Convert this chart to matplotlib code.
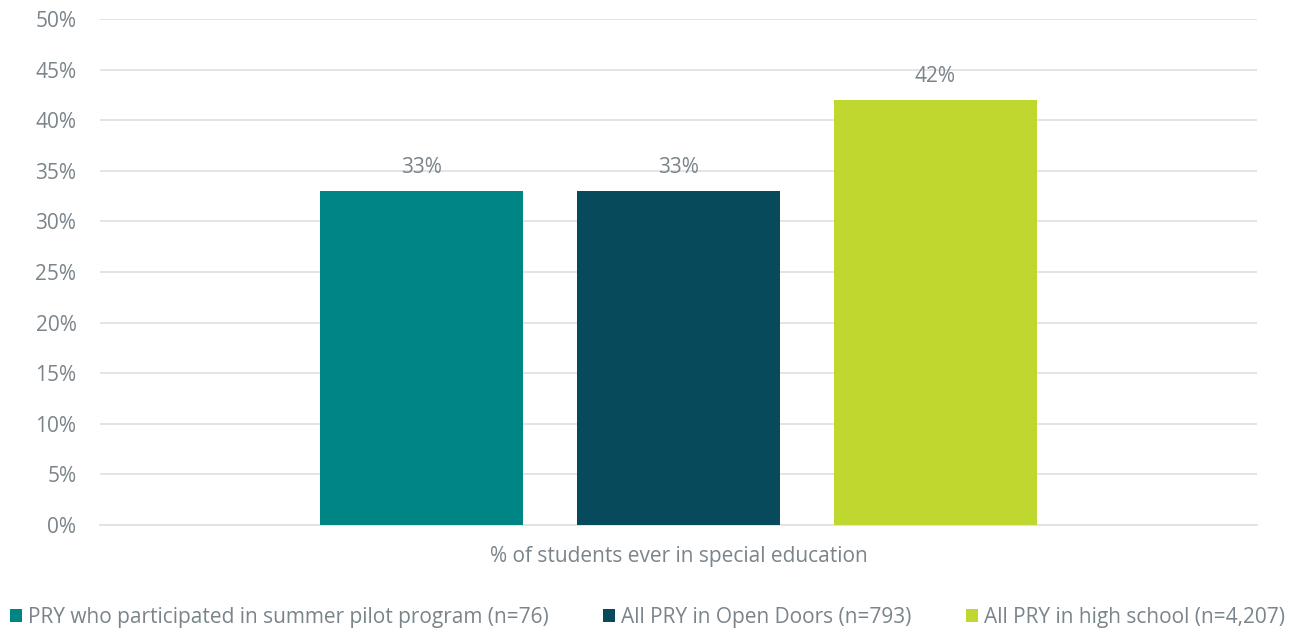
import matplotlib
matplotlib.use("Agg")
import matplotlib.pyplot as plt
from matplotlib.patches import Patch
from matplotlib.ticker import MultipleLocator, FuncFormatter

# Data
category = "% of students ever in special education"
groups = [
    "PRY who participated in summer pilot program (n=76)",
    "All PRY in Open Doors (n=793)",
    "All PRY in high school (n=4,207)",
]
values = [33, 33, 42]
colors = ["#008585", "#064A5C", "#C0D72F"]

TEXT = "#7A848B"
GRID = "#E2E2E2"
FS = 15

plt.rcParams["font.family"] = ["Open Sans", "DejaVu Sans"]

fig = plt.figure(figsize=(13.05, 6.33), dpi=100)
W, H = 1305, 633
ax = fig.add_axes([100 / W, (H - 525) / H, (1257 - 100) / W, (525 - 19) / H])

positions = [-1, 0, 1]
bars = ax.bar(positions, values, width=0.79, color=colors, zorder=3)
for b, v in zip(bars, values):
    ax.annotate(f"{v}%", (b.get_x() + b.get_width() / 2, v), xytext=(0, 9.5),
                textcoords="offset points", ha="center", va="bottom",
                fontsize=FS, color=TEXT)

ax.set_xlim(-2.251, 2.251)
ax.set_ylim(0, 50)
ax.yaxis.set_major_locator(MultipleLocator(5))
ax.yaxis.set_major_formatter(FuncFormatter(lambda y, _: f"{y:.0f}%"))
ax.grid(axis="y", color=GRID, linewidth=1.3, zorder=0)
for s in ["top", "right", "left"]:
    ax.spines[s].set_visible(False)
ax.spines["bottom"].set_color(GRID)
ax.spines["bottom"].set_linewidth(1.3)
ax.tick_params(axis="y", length=0, pad=17, labelsize=FS, labelcolor=TEXT)
ax.set_xticks([0])
ax.set_xticklabels([category])
ax.tick_params(axis="x", length=0, pad=15, labelsize=FS, labelcolor=TEXT)

handles = [Patch(facecolor=c, edgecolor="none") for c in colors]
fig.legend(handles, groups, loc="center", bbox_to_anchor=(0.496, 16 / H), ncol=3,
           frameon=False, fontsize=FS, labelcolor=TEXT, handlelength=0.58,
           handleheight=0.58, handletextpad=0.3, columnspacing=2.6)

fig.savefig("out.png", dpi=100, facecolor="white")
